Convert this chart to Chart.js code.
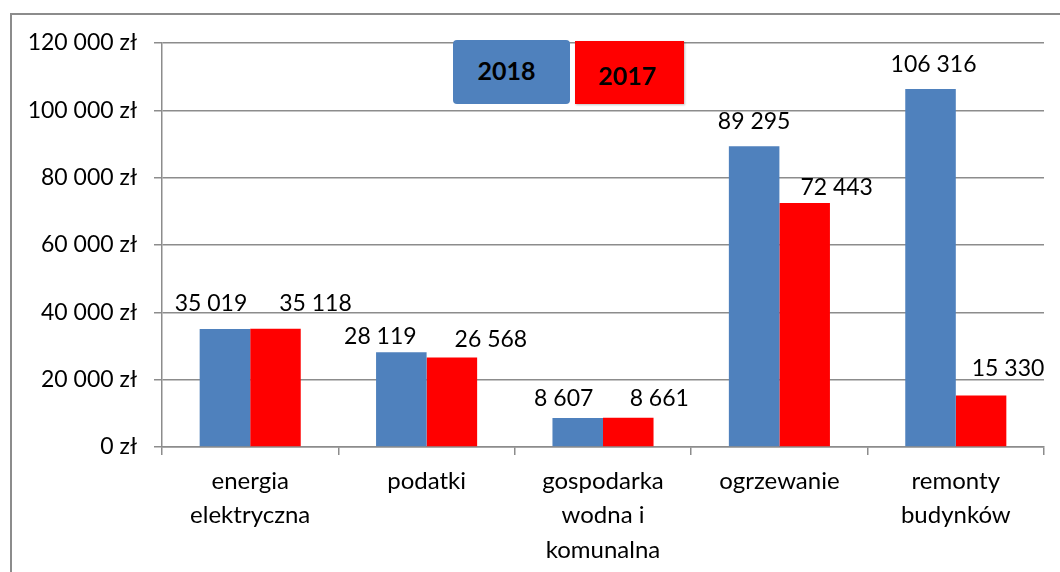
<!DOCTYPE html>
<html>
<head>
<meta charset="utf-8">
<script src="https://cdn.jsdelivr.net/npm/chart.js@4.4.1/dist/chart.umd.min.js"></script>
<style>
    body { margin: 0; background: #fff; font-family: Lato, "Noto Sans", sans-serif; }
    #frame { position: absolute; left: 10px; top: 13px; width: 1100px; height: 600px;
             border-left: 2px solid #8c8c8c; border-top: 2px solid #8c8c8c; }
    #chart { position: absolute; left: 0; top: 0; }
    .legend-box { position: absolute; display: flex; align-items: center; justify-content: center;
                  font: bold 25px Lato, sans-serif; color: #000; box-sizing: border-box; }
</style>
</head>
<body>
<div id="frame"></div>
<canvas id="chart" width="1060" height="572"></canvas>
<div id="legend"></div>
<script>
const categories = [
    ["energia", "elektryczna"],
    ["podatki"],
    ["gospodarka", "wodna i", "komunalna"],
    ["ogrzewanie"],
    ["remonty", "budynków"]
];
const seriesNames = ["2018", "2017"];
const values2018 = [35019, 28119, 8607, 89295, 106316];
const values2017 = [35118, 26568, 8661, 72443, 15330];
const yTicks = [0, 20000, 40000, 60000, 80000, 100000, 120000];

const colors = ["#4F81BD", "#FF0000"];
const gridColor = "#8c8c8c";

// label nudges as placed in the original (dx, gap above bar)
const labelShift = [
    [[-14, 18], [-21, 8], [-14, 12], [0, 17], [3, 17]],
    [[40, 18], [39, 11], [31, 12], [32, 8], [27, 19]]
];

function fmt(v) {
    return String(v).replace(/\B(?=(\d{3})+(?!\d))/g, " ");
}

// legend boxes
const legendEl = document.getElementById("legend");
const legendPos = [
    { left: 453, top: 40, width: 117, height: 64, pad: "0 10px 4px 0", radius: "4px" },
    { left: 575, top: 41, width: 109, height: 63, pad: "4px 4px 0 0", radius: "0" }
];
seriesNames.forEach((name, i) => {
    const box = document.createElement("div");
    box.className = "legend-box";
    const p = legendPos[i];
    box.style.left = p.left + "px";
    box.style.top = p.top + "px";
    box.style.width = p.width + "px";
    box.style.height = p.height + "px";
    box.style.padding = p.pad;
    box.style.borderRadius = p.radius;
    box.style.background = colors[i];
    if (i === 1) box.style.boxShadow = "1px 1px 2px rgba(0,0,0,0.25)";
    box.textContent = name;
    legendEl.appendChild(box);
});

const valueLabels = {
    id: "valueLabels",
    afterDatasetsDraw(chart) {
        const ctx = chart.ctx;
        ctx.save();
        ctx.font = "23px Lato, sans-serif";
        ctx.fillStyle = "#000";
        ctx.textAlign = "center";
        ctx.textBaseline = "alphabetic";
        chart.data.datasets.forEach((ds, di) => {
            chart.getDatasetMeta(di).data.forEach((bar, i) => {
                const s = labelShift[di][i];
                ctx.fillText(fmt(ds.data[i]), bar.x + s[0], bar.y - s[1]);
            });
        });
        ctx.restore();
    }
};

new Chart(document.getElementById("chart"), {
    type: "bar",
    data: {
        labels: categories,
        datasets: [
            { label: seriesNames[0], data: values2018, backgroundColor: colors[0] },
            { label: seriesNames[1], data: values2017, backgroundColor: colors[1] }
        ]
    },
    options: {
        responsive: false,
        animation: false,
        devicePixelRatio: 1,
        categoryPercentage: 0.573,
        barPercentage: 1,
        layout: { padding: { top: 43, right: 16, left: 0, bottom: 0 } },
        plugins: {
            legend: { display: false },
            tooltip: { enabled: false }
        },
        scales: {
            y: {
                min: 0,
                max: 120000,
                afterFit: (scale) => { scale.width = 162; },
                afterBuildTicks: (scale) => { scale.ticks = yTicks.map(v => ({ value: v })); },
                ticks: {
                    font: { family: "Lato", size: 23 },
                    color: "#000",
                    padding: 17,
                    callback: (v) => fmt(v) + " zł"
                },
                grid: { color: gridColor, lineWidth: 1.5, tickLength: 8 },
                border: { color: gridColor, width: 1.5 }
            },
            x: {
                afterFit: (scale) => { scale.height = 125; },
                ticks: {
                    font: { family: "Lato", size: 24, lineHeight: 1.43 },
                    color: "#000",
                    padding: 9,
                    maxRotation: 0
                },
                grid: { drawOnChartArea: false, color: gridColor, lineWidth: 1.5, tickLength: 8 },
                border: { color: gridColor, width: 1.5 }
            }
        }
    },
    plugins: [valueLabels]
});
</script>
</body>
</html>
